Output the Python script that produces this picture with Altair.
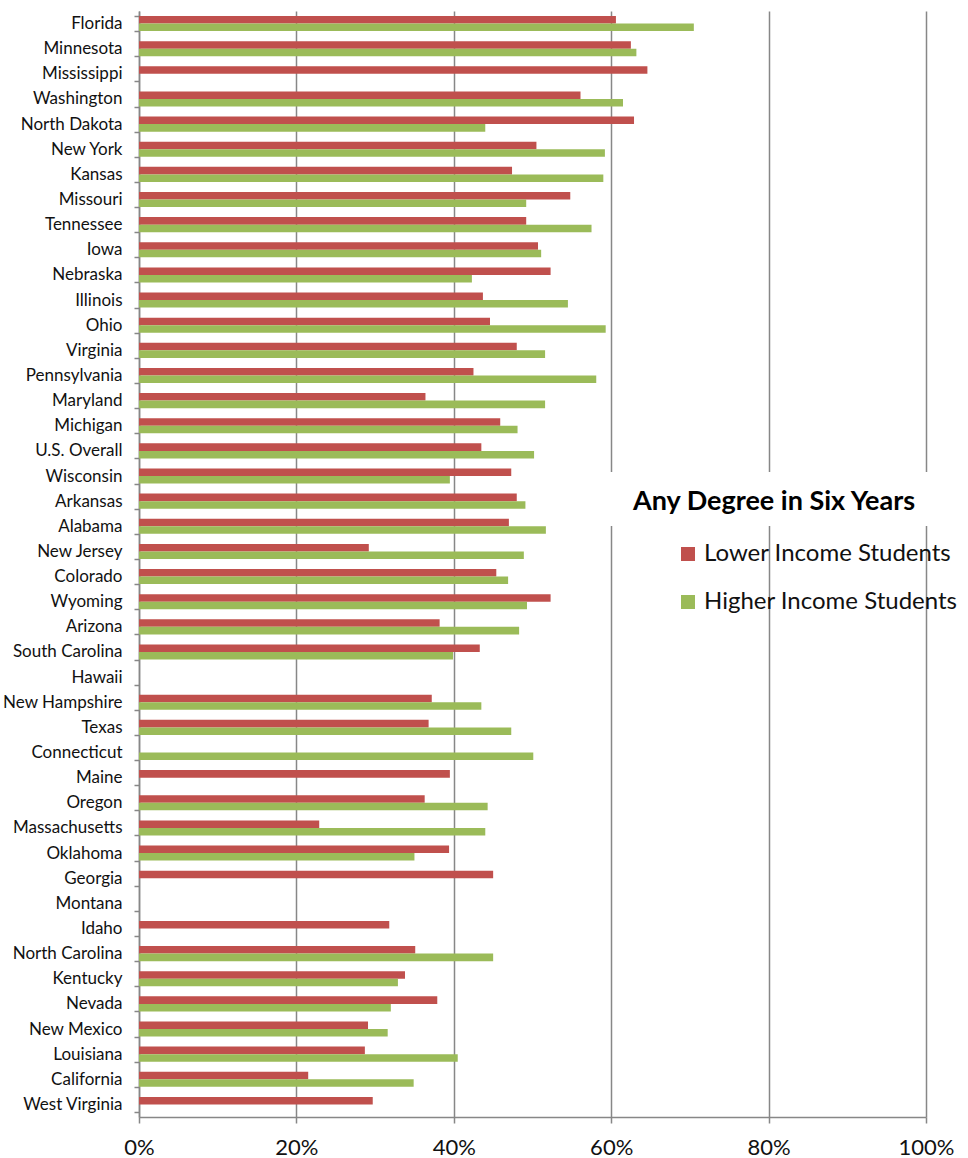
import altair as alt
import pandas as pd

# Six-year degree completion by state, lower vs higher income students (%)
states = [
    "Florida", "Minnesota", "Mississippi", "Washington", "North Dakota",
    "New York", "Kansas", "Missouri", "Tennessee", "Iowa", "Nebraska",
    "Illinois", "Ohio", "Virginia", "Pennsylvania", "Maryland", "Michigan",
    "U.S. Overall", "Wisconsin", "Arkansas", "Alabama", "New Jersey",
    "Colorado", "Wyoming", "Arizona", "South Carolina", "Hawaii",
    "New Hampshire", "Texas", "Connecticut", "Maine", "Oregon",
    "Massachusetts", "Oklahoma", "Georgia", "Montana", "Idaho",
    "North Carolina", "Kentucky", "Nevada", "New Mexico", "Louisiana",
    "California", "West Virginia",
]

lower_income = [
    60.6, 62.5, 64.6, 56.1, 62.9, 50.5, 47.4, 54.8, 49.2, 50.7,
    52.3, 43.7, 44.6, 48.0, 42.5, 36.4, 45.9, 43.5, 47.3, 48.0,
    47.0, 29.2, 45.4, 52.3, 38.2, 43.3, None, 37.2, 36.8, None,
    39.5, 36.3, 22.9, 39.4, 45.0, None, 31.8, 35.1, 33.8, 37.9,
    29.1, 28.7, 21.5, 29.7,
]

higher_income = [
    70.5, 63.2, None, 61.5, 44.0, 59.2, 59.0, 49.2, 57.5, 51.1,
    42.3, 54.5, 59.3, 51.6, 58.1, 51.6, 48.1, 50.2, 39.5, 49.1,
    51.7, 48.9, 46.9, 49.3, 48.3, 39.9, None, 43.5, 47.3, 50.1,
    None, 44.3, 44.0, 35.0, None, None, None, 45.0, 32.9, 32.0,
    31.6, 40.5, 34.9, None,
]

series_names = ["Lower Income Students", "Higher Income Students"]
series_colors = ["#C0504D", "#9BBB59"]
x_ticks = [0, 20, 40, 60, 80, 100]

rows = []
for state, lo, hi in zip(states, lower_income, higher_income):
    for name, val in zip(series_names, (lo, hi)):
        if val is not None:
            rows.append({"state": state, "series": name, "value": val})
df = pd.DataFrame(rows)

FONT = "Lato"
GRID = "#878787"
W, H = 787, 1106

bars = alt.Chart(df).mark_bar().encode(
    x=alt.X(
        "value:Q",
        scale=alt.Scale(domain=[0, 100], nice=False),
        axis=alt.Axis(
            values=x_ticks, labelExpr="datum.value + '%'", title=None,
            grid=True, gridColor=GRID, gridWidth=1.5,
            domainColor=GRID, domainWidth=1.5,
            tickColor=GRID, tickWidth=1.5, tickSize=6,
            labelFont=FONT, labelFontSize=22, labelColor="#111111",
            labelPadding=14, labelFlush=False,
        ),
    ),
    y=alt.Y(
        "state:N",
        sort=states,
        scale=alt.Scale(domain=states, paddingInner=0.4, paddingOuter=0.2),
        axis=alt.Axis(
            title=None, grid=False, tickBand="extent",
            domainColor=GRID, domainWidth=1.5,
            tickColor=GRID, tickWidth=1.5, tickSize=5,
            labelFont=FONT, labelFontSize=17, labelColor="#111111",
            labelPadding=12, labelLimit=200,
        ),
    ),
    yOffset=alt.YOffset(
        "series:N", sort=series_names,
        scale=alt.Scale(domain=series_names, paddingInner=0, paddingOuter=0),
    ),
    color=alt.Color(
        "series:N",
        scale=alt.Scale(domain=series_names, range=series_colors),
        legend=alt.Legend(
            title="Any Degree in Six Years",
            orient="none", legendX=494, legendY=478,
            padding=0,
            titleFont=FONT, titleFontSize=27, titleFontWeight="bold",
            titleColor="#000000", titlePadding=26, titleAnchor="start",
            titleLimit=600,
            labelFont=FONT, labelFontSize=24, labelColor="#111111",
            labelOffset=4, labelLimit=500,
            symbolType="square", symbolSize=196, symbolStrokeWidth=0,
            symbolOffset=43, rowPadding=24,
        ),
    ),
)

# white panel behind the legend heading
panel = alt.Chart(alt.Data(values=[{}])).mark_rect(color="white").encode(
    x=alt.value(466), x2=alt.value(829),
    y=alt.value(461), y2=alt.value(515),
)

chart = alt.layer(bars, panel).properties(
    width=W, height=H,
    autosize=alt.AutoSizeParams(type="none"),
    padding={"left": 139, "top": 11, "right": 42, "bottom": 41},
    background="white",
).configure_view(stroke=None)

chart.save("out.html", embed_options={"renderer": "svg", "actions": False})
